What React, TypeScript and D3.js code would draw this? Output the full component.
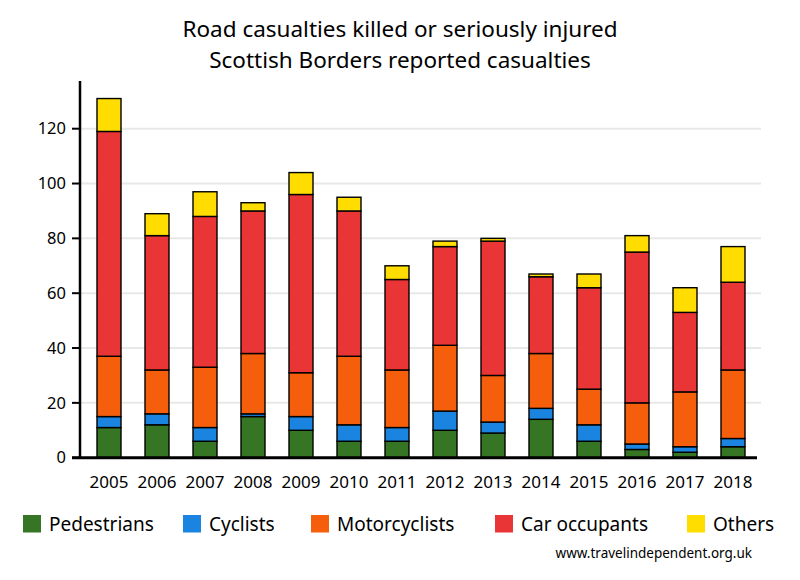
import React, { useEffect, useRef } from 'react';
import * as d3 from 'd3';

const years = ['2005', '2006', '2007', '2008', '2009', '2010', '2011', '2012', '2013', '2014', '2015', '2016', '2017', '2018'];
const pedestrians = [11, 12, 6, 15, 10, 6, 6, 10, 9, 14, 6, 3, 2, 4];
const cyclists = [4, 4, 5, 1, 5, 6, 5, 7, 4, 4, 6, 2, 2, 3];
const motorcyclists = [22, 16, 22, 22, 16, 25, 21, 24, 17, 20, 13, 15, 20, 25];
const carOccupants = [82, 49, 55, 52, 65, 53, 33, 36, 49, 28, 37, 55, 29, 32];
const others = [12, 8, 9, 3, 8, 5, 5, 2, 1, 1, 5, 6, 9, 13];

const seriesNames = ['Pedestrians', 'Cyclists', 'Motorcyclists', 'Car occupants', 'Others'];
const seriesColors = ['#367523', '#1b84e0', '#f55f0b', '#e93535', '#ffdd00'];
const yTicks = [0, 20, 40, 60, 80, 100, 120];

const FONT = '"Noto Sans", "Open Sans", sans-serif';

export default function App() {
  const svgRef = useRef<SVGSVGElement>(null);

  useEffect(() => {
    if (!svgRef.current) return;
    const svg = d3.select(svgRef.current);
    svg.selectAll('*').remove();

    const rows = years.map((year, i) => ({
      year,
      Pedestrians: pedestrians[i],
      Cyclists: cyclists[i],
      Motorcyclists: motorcyclists[i],
      'Car occupants': carOccupants[i],
      Others: others[i],
    }));

    const stack = d3.stack<any>().keys(seriesNames);
    const layers = stack(rows);

    const x = d3.scaleBand().domain(years).range([85, 757]).paddingInner(0.5).paddingOuter(0.25);
    const y = d3.scaleLinear().domain([0, 120]).range([457.7, 128.7]);
    const color = d3.scaleOrdinal<string>().domain(seriesNames).range(seriesColors);

    // Title
    const title = svg.append('g').attr('font-family', FONT).attr('font-size', 22.5).attr('text-anchor', 'middle').attr('fill', '#000');
    title.append('text').attr('x', 400).attr('y', 37).text('Road casualties killed or seriously injured');
    title.append('text').attr('x', 400).attr('y', 68).text('Scottish Borders reported casualties');

    // Gridlines
    svg.append('g')
      .selectAll('line')
      .data(yTicks.filter(t => t > 0))
      .join('line')
      .attr('x1', 81)
      .attr('x2', 761)
      .attr('y1', d => y(d))
      .attr('y2', d => y(d))
      .attr('stroke', '#e8e8e8')
      .attr('stroke-width', 2);

    // Bars
    svg.append('g')
      .selectAll('g')
      .data(layers)
      .join('g')
      .attr('fill', d => color(d.key))
      .selectAll('rect')
      .data(d => d)
      .join('rect')
      .attr('x', d => x(d.data.year)!)
      .attr('width', x.bandwidth())
      .attr('y', d => y(d[1]))
      .attr('height', d => y(d[0]) - y(d[1]))
      .attr('stroke', '#000')
      .attr('stroke-width', 1.4);

    // Y axis
    const yAxis = svg.append('g').attr('font-family', FONT).attr('font-size', 16.5);
    yAxis.append('line')
      .attr('x1', 80).attr('x2', 80)
      .attr('y1', 81).attr('y2', y(0) + 1)
      .attr('stroke', '#000').attr('stroke-width', 2.5);
    const yt = yAxis.selectAll('g').data(yTicks).join('g').attr('transform', d => `translate(0,${y(d)})`);
    yt.append('line').attr('x1', 72).attr('x2', 80).attr('stroke', '#000').attr('stroke-width', 2);
    yt.append('text').attr('x', 66).attr('dy', '0.35em').attr('text-anchor', 'end').text(d => d);

    // X axis
    svg.append('line')
      .attr('x1', 72).attr('x2', 757)
      .attr('y1', y(0)).attr('y2', y(0))
      .attr('stroke', '#000').attr('stroke-width', 3);
    svg.append('g')
      .attr('font-family', FONT)
      .attr('font-size', 17)
      .attr('text-anchor', 'middle')
      .selectAll('text')
      .data(years)
      .join('text')
      .attr('x', d => x(d)! + x.bandwidth() / 2)
      .attr('y', 488)
      .text(d => d);

    // Legend
    const legendX = [23, 183, 311, 495, 687];
    const lg = svg.append('g').attr('font-family', FONT).attr('font-size', 19);
    const items = lg.selectAll('g').data(seriesNames).join('g').attr('transform', (d, i) => `translate(${legendX[i]},515)`);
    items.append('rect').attr('width', 18).attr('height', 17.5).attr('fill', d => color(d));
    items.append('text').attr('x', 26).attr('y', 16).text(d => d);

    // Footnote
    svg.append('text')
      .attr('x', 752).attr('y', 558)
      .attr('text-anchor', 'end')
      .attr('font-family', FONT)
      .attr('font-size', 13.5)
      .text('www.travelindependent.org.uk');
  }, []);

  return (
    <div style={{ position: 'absolute', left: 0, top: 0 }}>
      <svg ref={svgRef} width={800} height={580} style={{ display: 'block', background: '#fff' }} />
    </div>
  );
}
